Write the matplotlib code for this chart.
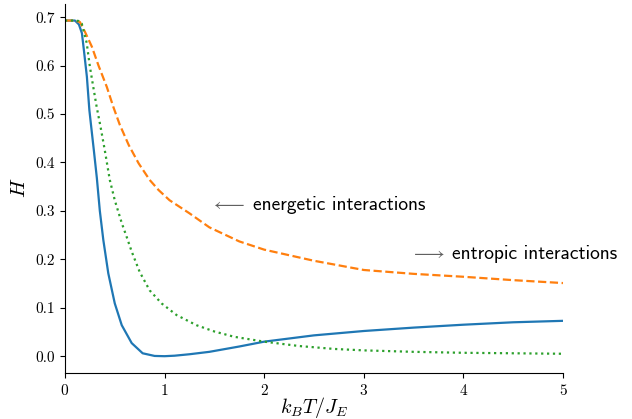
import matplotlib
matplotlib.use("Agg")
import matplotlib.pyplot as plt

plt.rcParams['font.family'] = 'serif'
plt.rcParams['font.serif'] = ['cmr10']
plt.rcParams['mathtext.fontset'] = 'cm'
plt.rcParams['axes.formatter.use_mathtext'] = True

# values
blue_x = [0, 0.1, 0.14, 0.17, 0.19, 0.22, 0.245, 0.26, 0.29, 0.32, 0.35, 0.385,
          0.435, 0.5, 0.57, 0.67, 0.78, 0.9, 1.0, 1.1, 1.25, 1.45, 1.75, 2.0,
          2.5, 3.0, 3.5, 4.0, 4.5, 5.0]
blue_y = [0.693, 0.693, 0.685, 0.667, 0.632, 0.577, 0.508, 0.48, 0.425, 0.368,
          0.30, 0.24, 0.171, 0.109, 0.064, 0.027, 0.006, 0.0005, 0.0, 0.001,
          0.004, 0.009, 0.020, 0.030, 0.043, 0.052, 0.059, 0.065, 0.070, 0.073]

orange_x = [0, 0.1, 0.15, 0.2, 0.27, 0.335, 0.42, 0.485, 0.55, 0.64, 0.74, 0.85,
            0.94, 1.05, 1.25, 1.45, 1.75, 2.0, 2.5, 3.0, 3.5, 4.0, 4.5, 5.0]
orange_y = [0.693, 0.693, 0.690, 0.670, 0.639, 0.601, 0.556, 0.515, 0.478,
            0.436, 0.398, 0.364, 0.343, 0.322, 0.295, 0.266, 0.237, 0.220,
            0.197, 0.178, 0.170, 0.164, 0.157, 0.151]

green_x = [0, 0.1, 0.14, 0.168, 0.218, 0.25, 0.284, 0.318, 0.355, 0.40, 0.45,
           0.50, 0.57, 0.62, 0.67, 0.75, 0.85, 0.97, 1.12, 1.32, 1.5, 1.7, 2.0,
           2.35, 2.7, 3.0, 3.5, 4.0, 4.5, 5.0]
green_y = [0.693, 0.693, 0.692, 0.687, 0.647, 0.598, 0.556, 0.515, 0.476, 0.425,
           0.364, 0.322, 0.275, 0.246, 0.216, 0.174, 0.136, 0.109, 0.085, 0.064,
           0.051, 0.040, 0.030, 0.021, 0.015, 0.012, 0.009, 0.007, 0.006, 0.005]

fig = plt.figure(figsize=(6.32, 4.19), dpi=100)
ax = fig.add_axes([0.1028, 0.1098, 0.788, 0.8816])

ax.plot(blue_x, blue_y, color='#1f77b4', lw=1.6)
ax.plot(orange_x, orange_y, color='#ff7f0e', lw=1.6, ls='--')
ax.plot(green_x, green_y, color='#2ca02c', lw=1.6, ls=':')

ax.set_xlim(0, 5)
ax.set_ylim(-0.0347, 0.728)
ax.set_xticks([0, 1, 2, 3, 4, 5])
ax.set_yticks([0.0, 0.1, 0.2, 0.3, 0.4, 0.5, 0.6, 0.7])
ax.set_yticklabels(['0.0', '0.1', '0.2', '0.3', '0.4', '0.5', '0.6', '0.7'])
ax.tick_params(labelsize=11)
ax.spines['top'].set_visible(False)
ax.spines['right'].set_visible(False)

ax.set_xlabel(r'$k_BT/J_E$', fontsize=14.5, labelpad=-2)
ax.set_ylabel(r'$H$', fontsize=15, labelpad=5)

# annotations
ax.text(1.456, 0.312, r'$\longleftarrow$', color='#606060', fontsize=14, va='center')
ax.text(1.888, 0.312, 'energetic interactions', family='cmss10', fontsize=14,
        va='center')
ax.text(3.464, 0.211, r'$\longrightarrow$', color='#606060', fontsize=14, va='center')
ax.text(3.886, 0.211, 'entropic interactions', family='cmss10', fontsize=14,
        va='center')

fig.savefig('out.png', dpi=100)
